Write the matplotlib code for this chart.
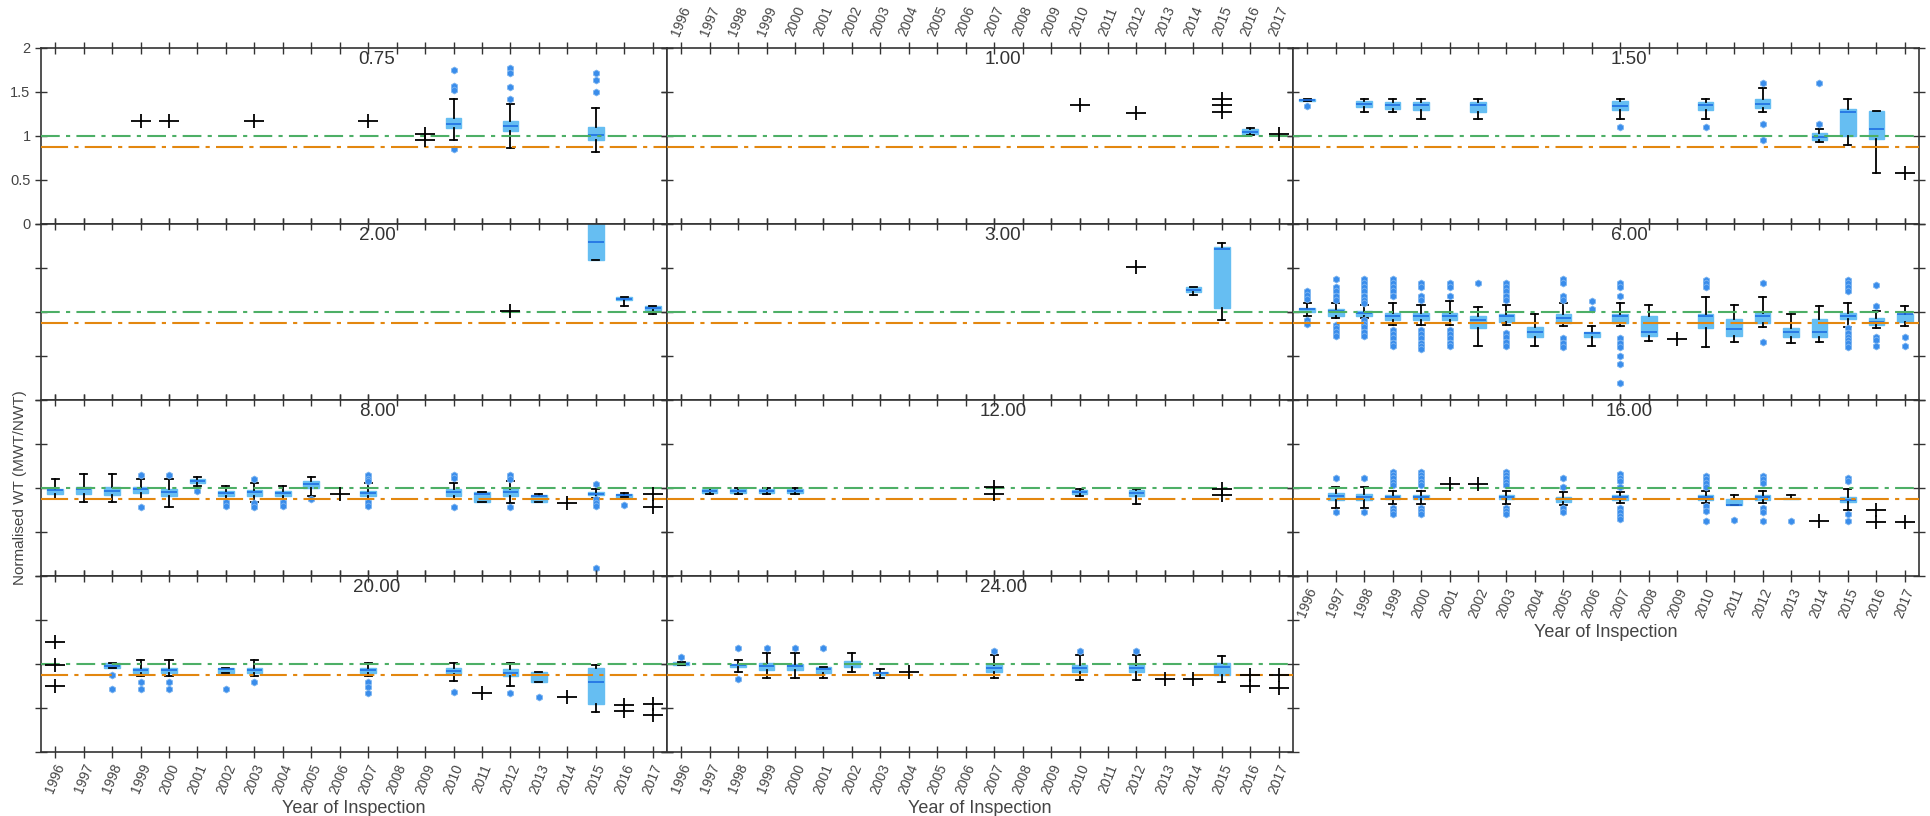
import matplotlib
matplotlib.use('Agg')
import matplotlib.pyplot as plt
from matplotlib.path import Path

plt.rcParams['font.family'] = ['Liberation Sans', 'DejaVu Sans']

years = list(range(1996, 2018))
panel_titles = ['0.75', '1.00', '1.50', '2.00', '3.00', '6.00',
                '8.00', '12.00', '16.00', '20.00', '24.00']
ref_green = 1.0
ref_orange = 0.88

# box rows: (year, whislo, q1, median, q3, whishi, fliers)
box_075 = [
    (2010, 0.955, 1.09, 1.14, 1.21, 1.415, [1.755, 1.566, 1.52, 0.857]),
    (2012, 0.86, 1.06, 1.11, 1.17, 1.36, [1.77, 1.72, 1.56, 1.42]),
    (2015, 0.82, 0.96, 1.01, 1.105, 1.32, [1.72, 1.64, 1.5]),
]
pts_075 = [(1999, 1.17), (2000, 1.17), (2003, 1.17), (2007, 1.17), (2009, 1.02), (2009, 0.955)]

box_100 = [(2016, 1.01, 1.02, 1.05, 1.08, 1.09, [])]
pts_100 = [(2010, 1.355), (2012, 1.264), (2015, 1.415), (2015, 1.347), (2015, 1.272), (2017, 1.02)]

box_150 = [
    (1996, 1.40, 1.40, 1.41, 1.42, 1.42, [1.34]),
    (1998, 1.27, 1.33, 1.366, 1.40, 1.42, []),
    (1999, 1.27, 1.31, 1.35, 1.385, 1.42, []),
    (2000, 1.196, 1.30, 1.35, 1.385, 1.42, []),
    (2002, 1.196, 1.27, 1.355, 1.385, 1.42, []),
    (2007, 1.196, 1.30, 1.34, 1.40, 1.42, [1.10]),
    (2010, 1.196, 1.294, 1.355, 1.385, 1.42, [1.10]),
    (2012, 1.27, 1.32, 1.366, 1.415, 1.547, [1.60, 1.14, 0.955]),
    (2014, 0.932, 0.955, 0.99, 1.03, 1.083, [1.60, 1.14]),
    (2015, 0.894, 1.0, 1.27, 1.31, 1.42, []),
    (2016, 0.585, 0.97, 1.075, 1.28, 1.28, []),
]
pts_150 = [(2017, 0.577)]

box_200 = [
    (2015, 1.59, 1.59, 1.80, 2.10, 2.2, []),
    (2016, 1.07, 1.131, 1.153, 1.176, 1.176, []),
    (2017, 0.975, 1.025, 1.047, 1.07, 1.07, []),
]
pts_200 = [(2012, 1.013)]

box_300 = [
    (2014, 1.19, 1.222, 1.25, 1.279, 1.279, []),
    (2015, 0.911, 1.044, 1.72, 1.738, 1.784, []),
]
pts_300 = [(2012, 1.507)]

box_600 = [
    (1996, 0.949, 0.998, 1.032, 1.051, 1.101, [1.241, 1.195, 1.150, 0.911, 0.865]),
    (1997, 0.937, 0.960, 1.006, 1.032, 1.101, [1.378, 1.283, 1.233, 1.184, 1.139, 0.854, 0.816, 0.778, 0.732]),
    (1998, 0.937, 0.960, 0.987, 1.006, 1.082, [1.378, 1.328, 1.283, 1.233, 1.184, 1.139, 1.101,
                                              0.911, 0.865, 0.827, 0.778, 0.732]),
    (1999, 0.854, 0.911, 0.960, 0.994, 1.101, [1.378, 1.328, 1.283, 1.233, 1.184,
                                              0.797, 0.751, 0.702, 0.653, 0.615]),
    (2000, 0.854, 0.911, 0.960, 0.994, 1.082, [1.328, 1.283, 1.184, 1.139,
                                              0.797, 0.751, 0.702, 0.653, 0.615, 0.577]),
    (2001, 0.854, 0.911, 0.960, 0.987, 1.127, [1.328, 1.283, 1.184, 0.797, 0.751, 0.702, 0.653, 0.615]),
    (2002, 0.619, 0.816, 0.911, 0.960, 1.055, [1.328]),
    (2003, 0.854, 0.892, 0.949, 0.975, 1.082, [1.328, 1.283, 1.233, 1.184, 1.139,
                                              0.759, 0.713, 0.664, 0.615]),
    (2004, 0.619, 0.713, 0.778, 0.835, 0.975, []),
    (2005, 0.842, 0.873, 0.930, 0.975, 1.101, [1.378, 1.328, 1.184, 1.139, 0.702, 0.653, 0.607]),
    (2006, 0.619, 0.713, 0.759, 0.778, 0.842, [1.120, 1.032]),
    (2007, 0.842, 0.873, 0.949, 0.975, 1.101, [1.328, 1.283, 1.184, 0.702, 0.653, 0.607,
                                              0.501, 0.410, 0.190]),
    (2008, 0.676, 0.732, 0.778, 0.960, 1.082, []),
    (2010, 0.607, 0.816, 0.949, 0.975, 1.176, [1.359, 1.328, 1.283]),
    (2011, 0.657, 0.732, 0.805, 0.922, 1.082, []),
    (2012, 0.827, 0.873, 0.960, 0.994, 1.176, [1.328, 0.664]),
    (2013, 0.645, 0.720, 0.770, 0.816, 0.975, []),
    (2014, 0.664, 0.713, 0.778, 0.922, 1.070, []),
    (2015, 0.835, 0.922, 0.960, 0.994, 1.101, [1.359, 1.328, 1.283, 1.241,
                                              0.816, 0.759, 0.721, 0.683, 0.645, 0.607]),
    (2016, 0.816, 0.854, 0.892, 0.937, 1.006, [1.309, 1.070, 0.721, 0.683, 0.615]),
    (2017, 0.842, 0.892, 0.975, 0.979, 1.070, [0.713, 0.615]),
]
pts_600 = [(2009, 0.695)]

box_800 = [
    (1996, 0.880, 0.936, 0.974, 0.992, 1.105, []),
    (1997, 0.842, 0.936, 0.985, 1.015, 1.154, []),
    (1998, 0.842, 0.917, 0.966, 1.015, 1.154, []),
    (1999, 0.880, 0.940, 0.985, 1.008, 1.098, [1.143, 0.789]),
    (2000, 0.789, 0.910, 0.955, 0.985, 1.098, [1.143]),
    (2001, 1.023, 1.053, 1.083, 1.105, 1.128, [0.966]),
    (2002, 0.872, 0.910, 0.940, 0.962, 1.023, [0.842, 0.797]),
    (2003, 0.842, 0.910, 0.955, 0.974, 1.060, [1.105, 0.835, 0.789]),
    (2004, 0.880, 0.910, 0.940, 0.962, 1.023, [0.842, 0.797]),
    (2005, 0.910, 1.004, 1.041, 1.079, 1.128, [0.880]),
    (2007, 0.872, 0.910, 0.947, 0.966, 1.060, [1.143, 1.098, 1.079, 0.842, 0.797]),
    (2010, 0.872, 0.910, 0.955, 0.985, 1.060, [1.143, 1.117, 0.789]),
    (2011, 0.842, 0.842, 0.929, 0.955, 0.959, []),
    (2012, 0.835, 0.910, 0.959, 0.985, 1.079, [1.143, 1.098, 0.789]),
    (2013, 0.842, 0.842, 0.910, 0.917, 0.929, []),
    (2015, 0.891, 0.917, 0.936, 0.955, 0.985, [1.041, 0.872, 0.835, 0.797, 0.090]),
    (2016, 0.902, 0.902, 0.921, 0.936, 0.947, [0.805]),
]
pts_800 = [(2006, 0.929), (2014, 0.827), (2017, 0.936), (2017, 0.789)]

box_1200 = [
    (1997, 0.936, 0.945, 0.966, 0.990, 0.996, []),
    (1998, 0.936, 0.945, 0.966, 0.990, 0.996, []),
    (1999, 0.936, 0.945, 0.966, 0.990, 0.996, []),
    (2000, 0.936, 0.945, 0.966, 0.990, 0.996, []),
    (2010, 0.910, 0.929, 0.955, 0.977, 0.985, []),
    (2012, 0.816, 0.910, 0.947, 0.977, 0.992, []),
]
pts_1200 = [(2007, 1.015), (2007, 0.936), (2015, 0.985), (2015, 0.917)]

box_1600 = [
    (1997, 0.778, 0.865, 0.910, 0.940, 1.015, [1.117, 0.730]),
    (1998, 0.778, 0.865, 0.902, 0.936, 1.008, [1.117, 0.730]),
    (1999, 0.816, 0.872, 0.898, 0.917, 0.966, [1.184, 1.147, 1.109, 1.071, 1.034, 0.778, 0.740, 0.703]),
    (2000, 0.816, 0.872, 0.898, 0.917, 0.966, [1.184, 1.147, 1.109, 1.071, 1.034, 0.778, 0.740, 0.703]),
    (2003, 0.816, 0.872, 0.898, 0.917, 0.966, [1.184, 1.147, 1.109, 1.071, 1.034, 0.778, 0.740, 0.703]),
    (2005, 0.805, 0.846, 0.880, 0.898, 0.955, [1.117, 1.015, 0.778, 0.730]),
    (2007, 0.827, 0.865, 0.898, 0.917, 0.955, [1.154, 1.117, 1.079, 1.015, 0.778, 0.730, 0.684, 0.647]),
    (2010, 0.835, 0.865, 0.898, 0.917, 0.966, [1.135, 1.098, 1.060, 1.015, 0.797, 0.740, 0.628]),
    (2011, 0.805, 0.805, 0.812, 0.872, 0.917, [0.635]),
    (2012, 0.827, 0.865, 0.898, 0.917, 0.966, [1.135, 1.098, 1.060, 0.778, 0.722, 0.628]),
    (2013, 0.872, 0.872, 0.880, 0.890, 0.917, [0.628]),
    (2015, 0.752, 0.842, 0.865, 0.895, 0.992, [1.109, 1.079, 0.703, 0.620]),
]
pts_1600 = [(2001, 1.049), (2002, 1.041), (2014, 0.628), (2016, 0.752), (2016, 0.617), (2017, 0.617)]

box_2000 = [
    (1998, 0.951, 0.951, 0.981, 1.008, 1.008, [0.875, 0.715]),
    (1999, 0.859, 0.897, 0.932, 0.954, 1.046, [0.791, 0.715]),
    (2000, 0.859, 0.897, 0.932, 0.954, 1.046, [0.791, 0.715]),
    (2002, 0.897, 0.897, 0.943, 0.954, 0.954, [0.715]),
    (2003, 0.859, 0.897, 0.932, 0.954, 1.046, [0.791]),
    (2007, 0.859, 0.897, 0.932, 0.954, 1.011, [0.791, 0.734, 0.669]),
    (2010, 0.810, 0.886, 0.924, 0.954, 1.011, [0.677]),
    (2012, 0.753, 0.859, 0.897, 0.943, 1.011, [0.669]),
    (2013, 0.791, 0.791, 0.880, 0.905, 0.905, [0.620]),
    (2015, 0.456, 0.544, 0.791, 0.951, 0.992, []),
]
pts_2000 = [(1996, 1.247), (1996, 0.989), (1996, 0.753), (2011, 0.669), (2014, 0.620),
            (2016, 0.536), (2016, 0.47), (2017, 0.544), (2017, 0.422)]

box_2400 = [
    (1996, 0.992, 0.992, 1.000, 1.019, 1.019, [1.076]),
    (1998, 0.913, 0.970, 0.989, 1.004, 1.046, [1.179, 0.829]),
    (1999, 0.837, 0.932, 0.973, 1.011, 1.122, [1.179]),
    (2000, 0.837, 0.932, 0.973, 1.000, 1.122, [1.179]),
    (2001, 0.837, 0.894, 0.943, 0.962, 0.962, [1.179]),
    (2002, 0.913, 0.970, 1.000, 1.030, 1.122, []),
    (2003, 0.837, 0.875, 0.897, 0.913, 0.943, []),
    (2007, 0.837, 0.905, 0.954, 0.989, 1.106, [1.152]),
    (2010, 0.821, 0.905, 0.954, 0.989, 1.106, [1.152]),
    (2012, 0.821, 0.905, 0.954, 0.989, 1.106, [1.152]),
    (2015, 0.791, 0.875, 0.962, 1.011, 1.095, []),
]
pts_2400 = [(2004, 0.905), (2013, 0.829), (2014, 0.829), (2016, 0.875), (2016, 0.753),
            (2017, 0.875), (2017, 0.722)]

panel_boxes = [box_075, box_100, box_150, box_200, box_300, box_600,
               box_800, box_1200, box_1600, box_2000, box_2400]
panel_points = [pts_075, pts_100, pts_150, pts_200, pts_300, pts_600,
                pts_800, pts_1200, pts_1600, pts_2000, pts_2400]

BOX_FILL = '#66BEF2'
MEDIAN = '#1F6FE3'
FLIER = '#3A8DEB'
SPINE = '#333333'
TEXT = '#444444'

# plus sign that is wider than tall, like the one in the original
WIDE_PLUS = Path([(-1, 0), (1, 0), (0, -0.72), (0, 0.72)],
                 [Path.MOVETO, Path.LINETO, Path.MOVETO, Path.LINETO])


def draw_panel(ax, title, box_rows, pt_rows):
    stats = [dict(med=m, q1=a, q3=b, whislo=lo, whishi=hi, fliers=fl)
             for (_, lo, a, m, b, hi, fl) in box_rows]
    if stats:
        ax.bxp(stats, positions=[r[0] for r in box_rows], widths=0.55, capwidths=0.25,
               patch_artist=True, manage_ticks=False,
               boxprops=dict(facecolor=BOX_FILL, edgecolor=BOX_FILL, linewidth=1),
               medianprops=dict(color=MEDIAN, linewidth=1.2),
               whiskerprops=dict(color='black', linewidth=1.3),
               capprops=dict(color='black', linewidth=1.3),
               flierprops=dict(marker='h', markersize=5, markerfacecolor=FLIER,
                               markeredgecolor='#7FB6F0', markeredgewidth=0.6,
                               linestyle='none'))
    if pt_rows:
        ax.plot([p[0] for p in pt_rows], [p[1] for p in pt_rows], marker=WIDE_PLUS,
                color='black', markersize=14, markeredgewidth=1.3, linestyle='none', zorder=4)
    ax.axhline(ref_green, color='#4DAF66', lw=1.5, ls=(0, (9, 3, 2, 3)), zorder=3)
    ax.axhline(ref_orange, color='#E3870F', lw=1.5, ls=(0, (13, 3, 2, 3)), zorder=3)
    ax.text(0.537, 0.935, title, transform=ax.transAxes, ha='center', va='center',
            fontsize=13.5, color='#333333')
    for sp in ax.spines.values():
        sp.set_color(SPINE)
        sp.set_linewidth(1.2)


fig, axes = plt.subplots(4, 3, figsize=(19.31, 8.16), dpi=100, sharex=True, sharey=True)
fig.subplots_adjust(left=0.0212, right=0.9938, top=0.9412, bottom=0.0784, wspace=0, hspace=0)

flat = axes.ravel()
for i, title in enumerate(panel_titles):
    draw_panel(flat[i], title, panel_boxes[i], panel_points[i])
axes[3, 2].remove()

ax0 = axes[0, 0]
ax0.set_xlim(1995.5, 2017.5)
ax0.set_ylim(0, 2)
ax0.set_xticks(years)
ax0.set_xticklabels([str(y) for y in years])
ax0.set_yticks([0, 0.5, 1, 1.5, 2])
ax0.set_yticklabels(['0', '0.5', '1', '1.5', '2'])

for i in range(len(panel_titles)):
    ax = flat[i]
    ax.tick_params(axis='both', which='both', direction='inout', length=8, width=1,
                   color=SPINE, top=True, right=True, labelcolor=TEXT, labelsize=10.5,
                   labelbottom=False, labeltop=False, labelleft=False, labelright=False)
    ax.tick_params(axis='x', labelrotation=68, labelsize=10, pad=3)

ax0.tick_params(labelleft=True)
axes[0, 1].tick_params(labeltop=True)
for ax in (axes[3, 0], axes[3, 1], axes[2, 2]):
    ax.tick_params(labelbottom=True)
    pos = ax.get_position()
    fig.text((pos.x0 + pos.x1) / 2, pos.y0 - 56 / 816, 'Year of Inspection',
             ha='center', va='center', fontsize=13, color=TEXT)

fig.text(20 / 1931, 1 - 488 / 816, 'Normalised WT (MWT/NWT)', rotation=90,
         ha='center', va='center', fontsize=11, color=TEXT)

fig.savefig('out.png', dpi=100)
